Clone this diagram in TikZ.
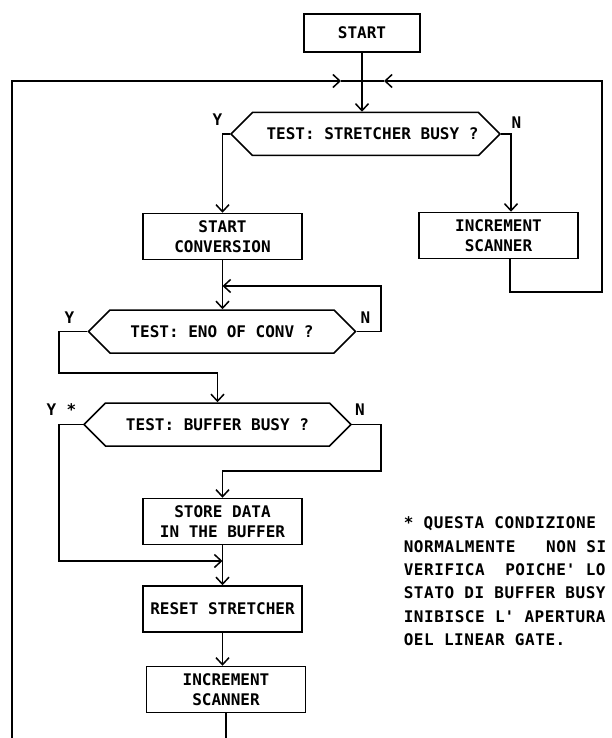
\documentclass[tikz,border=0pt]{standalone}
\usepackage{fontspec}
\newfontfamily\plotfont{DejaVu Sans Mono Bold}
\newfontfamily\notefont[LetterSpace=3.6]{DejaVu Sans Mono Bold}
\usetikzlibrary{shapes.symbols,arrows.meta}

\begin{document}
\begin{tikzpicture}[x=1pt,y=-1pt,line width=1.5pt,
 >={Straight Barb[length=7pt,width=13pt]},
 every node/.style={font=\plotfont\fontsize{16}{20}\selectfont,inner sep=0pt},
 procbox/.style={draw,align=center,minimum width=159pt,minimum height=46pt},
 testbox/.style={draw,shape=signal,signal to=west and east,signal pointer angle=90,
   minimum width=267pt,minimum height=43pt}]
\useasboundingbox (0,0) rectangle (611,738);
% boxes
\node[procbox,minimum width=116pt,minimum height=38pt] (start) at (362,33) {START};
\node[testbox] (test1) at (365.5,134) {\hspace*{14pt}TEST: STRETCHER BUSY ?};
\node[procbox] (conv) at (222.5,236.5) {START\\CONVERSION};
\node[procbox] (inc1) at (498.5,235.5) {INCREMENT\\SCANNER};
\node[testbox] (test2) at (222,331.5) {TEST: ENO OF CONV ?};
\node[testbox] (test3) at (217.5,424.5) {TEST: BUFFER BUSY ?};
\node[procbox] (store) at (222.5,521.5) {STORE DATA\\IN THE BUFFER};
\node[procbox] (reset) at (222.5,609) {RESET STRETCHER};
\node[procbox] (inc2) at (226,689.5) {INCREMENT\\SCANNER};
% branch flags
\node (y1) at (217.5,119.5) {Y};
\node (n1) at (516.5,123) {N};
\node (y2) at (69.5,317.5) {Y};
\node (n2) at (365.5,318) {N};
\node (y3) at (51.5,410) {Y};
\node (star) at (71.5,410) {*};
\node (n3) at (360,410) {N};
% note
\node[anchor=north west,align=left,font=\notefont\fontsize{16}{23.4}\selectfont] (note) at (403,516)
 {* QUESTA CONDIZIONE\\
  NORMALMENTE\ \ \ NON SI\\
  VERIFICA\ \ POICHE\textquotesingle{} LO\\
  STATO DI BUFFER BUSY\\
  INIBISCE L\textquotesingle{} APERTURA\\
  OEL LINEAR GATE.};
% loop points
\coordinate (jn) at (362,81);
\coordinate (mL) at (341,81);
\coordinate (mR) at (384,81);
\coordinate (botL) at (12,738);
\coordinate (botM) at (222.5,738);
\coordinate (cR) at (602,292);
\coordinate (l2) at (381,286);
\coordinate (y2c) at (59,373);
\coordinate (n3c) at (381,471);
\coordinate (y3c) at (59,561);
% connectors
\draw[->] (start) -- (jn |- test1.north);
\draw[->] (botL) |- (mL);
\draw (mL) -- (jn);
\draw[->] ([xshift=11.5pt]inc1.south) |- (cR) |- (mR);
\draw (mR) -- (jn);
\draw[->] (test1.west) -| (conv.north);
\draw[->] (test1.east) -| ([xshift=12.5pt]inc1.north);
\draw[->] (conv.south) -- (conv.south |- test2.north);
\draw[->] (test2.east) -| (l2) -- (conv.south |- l2);
\draw[->] (test2.west) -| (y2c) -| (test3.north);
\draw[->] (test3.east) -| (n3c) -| (store.north);
\draw[->] (test3.west) -| (y3c) -- (store.south |- y3c);
\draw[->] (store) -- (reset);
\draw[->] (reset.south) -- (reset.south |- inc2.north);
\draw (inc2.south) -- (inc2.south |- botM);
\end{tikzpicture}
\end{document}
